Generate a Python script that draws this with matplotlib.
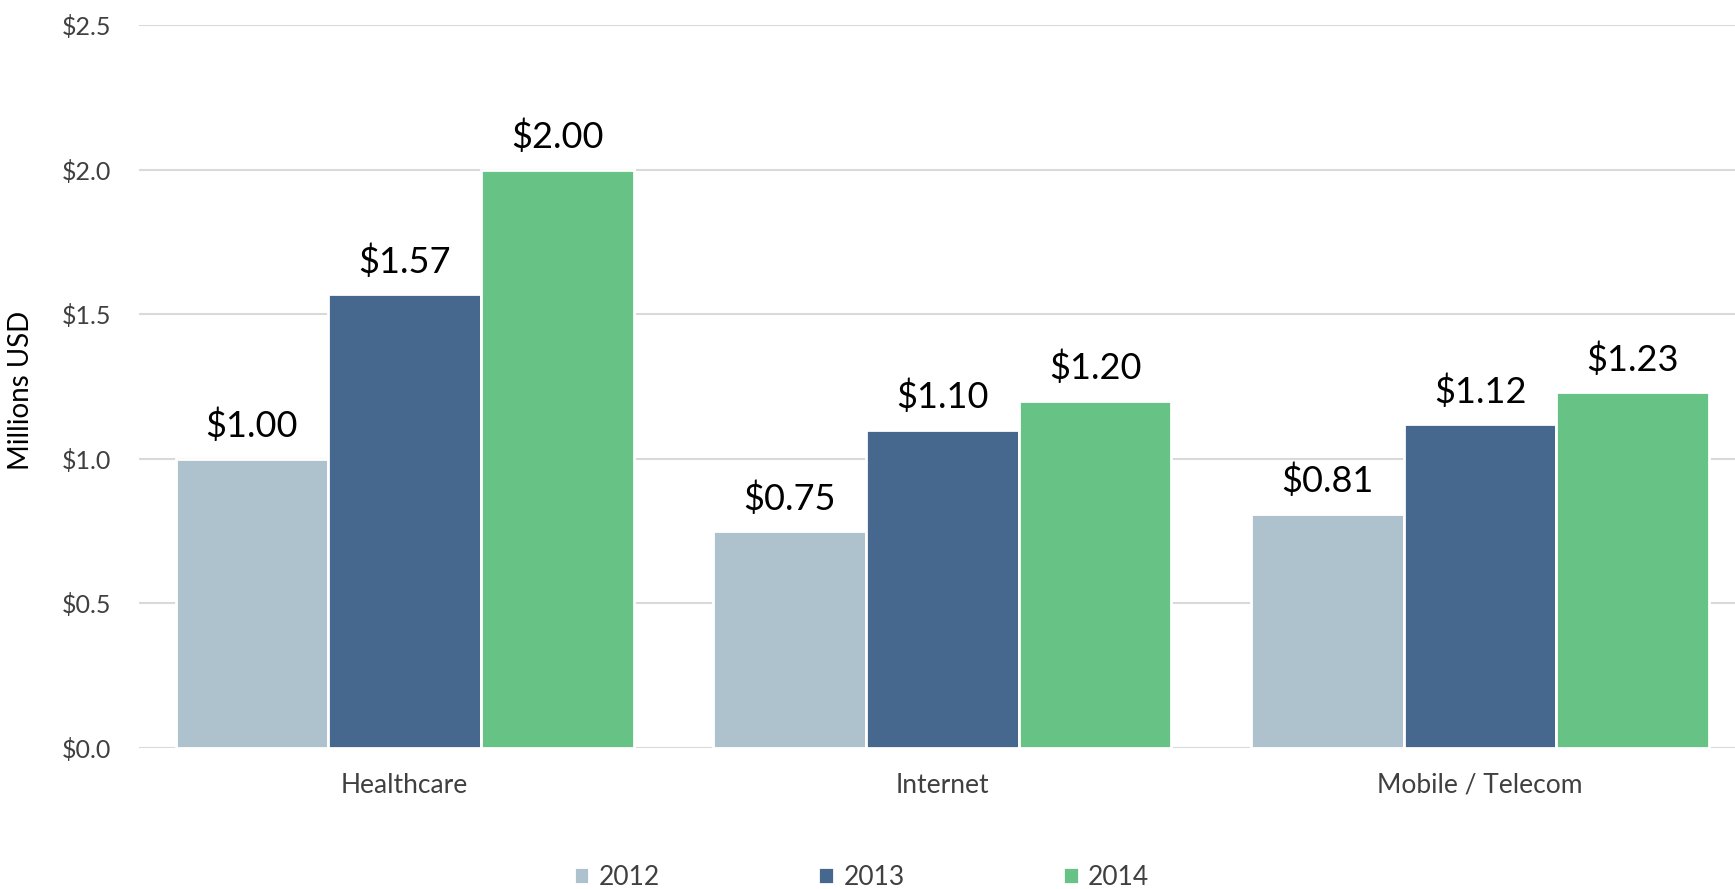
import numpy as np
import matplotlib
matplotlib.use("Agg")
import matplotlib.pyplot as plt
from matplotlib.ticker import FuncFormatter

plt.rcParams['font.family'] = ['Lato', 'DejaVu Sans']

categories = ["Healthcare", "Internet", "Mobile / Telecom"]
years = ["2012", "2013", "2014"]
values_2012 = [1.00, 0.75, 0.81]
values_2013 = [1.57, 1.10, 1.12]
values_2014 = [2.00, 1.20, 1.23]
colors = ["#AEC2CE", "#46688F", "#66C285"]

series = [values_2012, values_2013, values_2014]

fig = plt.figure(figsize=(17.35, 8.89), dpi=100)
ax = fig.add_axes([139 / 1735, 0.159, 1 - 139 / 1735, 0.9719 - 0.159])

x = np.arange(len(categories))
w = 0.284
for i, (vals, c, yr) in enumerate(zip(series, colors, years)):
    pos = x + (i - 1) * w
    bars = ax.bar(pos, vals, width=w, color=c, edgecolor="white", linewidth=2, label=yr, zorder=3)
    for b, v in zip(bars, vals):
        ax.annotate(f"${v:.2f}", (b.get_x() + b.get_width() / 2, v),
                    xytext=(0, 11), textcoords="offset points",
                    ha="center", va="bottom", fontsize=26, color="black")

ax.set_xlim(-0.494, 2.474)
ax.set_ylim(0, 2.5)
ax.set_yticks(np.arange(0, 2.51, 0.5))
ax.yaxis.set_major_formatter(FuncFormatter(lambda v, p: f"${v:.1f}"))
ax.grid(axis="y", color="#D9D9D9", linewidth=1.5, zorder=0)
ax.set_axisbelow(True)
for s in ax.spines.values():
    s.set_visible(False)
ax.tick_params(axis="both", length=0, labelsize=18, colors="#404040")
ax.tick_params(axis="y", pad=20)
ax.set_xticks(x)
ax.set_xticklabels(categories)
ax.tick_params(axis="x", pad=18, labelsize=19)
ax.set_ylabel("Millions USD", fontsize=20, color="black")
ax.yaxis.set_label_coords(-0.066, 0.494)

fig.legend(loc="center", bbox_to_anchor=(0.4965, 0.013), ncol=3, frameon=False,
           fontsize=19, handlelength=0.6, handleheight=0.6, handletextpad=0.35,
           columnspacing=6.0, labelcolor="#404040")

fig.savefig("out.png", dpi=100)
